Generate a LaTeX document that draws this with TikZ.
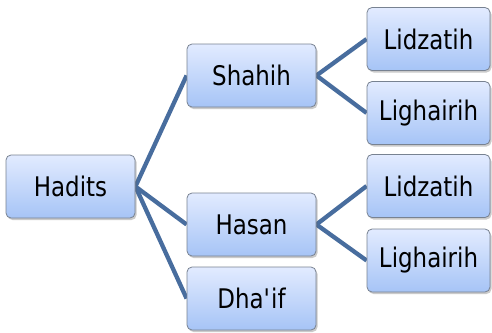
\documentclass[tikz,border=0pt]{standalone}
\usepackage{fontspec}
\setmainfont{DejaVu Sans}[FakeStretch=0.85]
\usetikzlibrary{shadows}
\definecolor{linkblue}{RGB}{72,109,158}
\definecolor{boxtop}{RGB}{226,235,255}
\definecolor{boxbot}{RGB}{166,196,246}
\definecolor{boxedge}{RGB}{120,130,145}
\pgfdeclarelayer{bg}
\pgfsetlayers{bg,main}
\tikzset{
  x=1pt, y=-1pt,
  box/.style={draw=boxedge, line width=0.8pt, rounded corners=5pt,
    top color=boxtop, bottom color=boxbot,
    drop shadow={shadow xshift=1.5pt, shadow yshift=-2pt, opacity=0.35, fill=black!60},
    minimum width=129pt, minimum height=63pt, inner sep=0pt,
    font=\fontsize{27}{31}\selectfont},
  leaf/.style={box, minimum width=123pt},
  link/.style={draw=linkblue, line width=4.3pt}
}
\begin{document}
\begin{tikzpicture}
\useasboundingbox (0,0) rectangle (492,332);
\node[box] (hadits) at (70.5,186.5) {Hadits};
\node[box] (shahih) at (251.5,75.5) {Shahih};
\node[box] (hasan) at (251.5,224.5) {Hasan};
\node[box] (dhaif) at (251.5,298.5) {Dha\textquotesingle if};
\node[leaf] (lid1) at (428.5,39) {Lidzatih};
\node[leaf] (lig1) at (428.5,113) {Lighairih};
\node[leaf] (lid2) at (428.5,186) {Lidzatih};
\node[leaf] (lig2) at (428.5,260.5) {Lighairih};
\begin{pgfonlayer}{bg}
\draw[link] (hadits.east) -- (shahih.west);
\draw[link] (hadits.east) -- (hasan.west);
\draw[link] (hadits.east) -- (dhaif.west);
\draw[link] (shahih.east) -- (lid1.west);
\draw[link] (shahih.east) -- (lig1.west);
\draw[link] (hasan.east) -- (lid2.west);
\draw[link] (hasan.east) -- (lig2.west);
\end{pgfonlayer}
\end{tikzpicture}
\end{document}
